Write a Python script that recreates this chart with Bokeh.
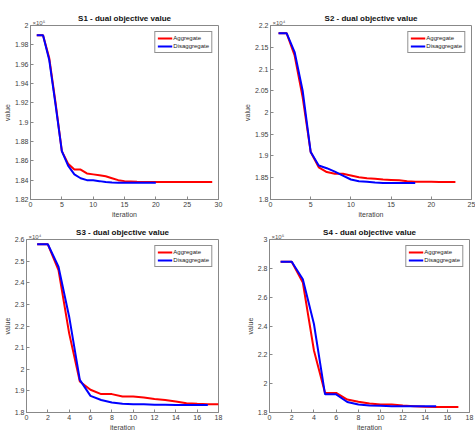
from bokeh.plotting import figure
from bokeh.layouts import column, row
from bokeh.models import Range1d, FixedTicker, CustomJSTickFormatter, Title
from bokeh.embed import file_html
from bokeh.resources import INLINE

# ---------------- data ----------------
s1_agg_x = list(range(1, 30))
s1_agg_y = [1.990, 1.990, 1.966, 1.920, 1.870, 1.857, 1.851, 1.851, 1.847, 1.846,
            1.845, 1.844, 1.842, 1.840, 1.839, 1.8387, 1.8383, 1.838, 1.838, 1.838,
            1.838, 1.838, 1.838, 1.838, 1.838, 1.838, 1.838, 1.838, 1.838]
s1_dis_x = list(range(1, 21))
s1_dis_y = [1.990, 1.990, 1.964, 1.918, 1.870, 1.855, 1.846, 1.842, 1.840, 1.8398,
            1.839, 1.838, 1.8375, 1.8374, 1.8374, 1.8373, 1.8373, 1.8372, 1.8372, 1.8372]

s2_agg_x = list(range(1, 24))
s2_agg_y = [2.1824, 2.1824, 2.131, 2.035, 1.909, 1.874, 1.863, 1.859, 1.859, 1.855,
            1.851, 1.849, 1.8475, 1.846, 1.845, 1.844, 1.842, 1.841, 1.8406, 1.8406,
            1.8405, 1.8405, 1.8405]
s2_dis_x = list(range(1, 19))
s2_dis_y = [2.1824, 2.1824, 2.139, 2.050, 1.909, 1.878, 1.872, 1.864, 1.855, 1.846,
            1.842, 1.841, 1.839, 1.838, 1.838, 1.838, 1.838, 1.838]

s3_agg_x = list(range(1, 19))
s3_agg_y = [2.578, 2.578, 2.458, 2.166, 1.943, 1.905, 1.885, 1.885, 1.874, 1.874,
            1.869, 1.862, 1.858, 1.851, 1.843, 1.840, 1.838, 1.838]
s3_dis_x = list(range(1, 18))
s3_dis_y = [2.578, 2.578, 2.474, 2.243, 1.951, 1.877, 1.858, 1.846, 1.840, 1.838,
            1.838, 1.836, 1.836, 1.835, 1.835, 1.835, 1.835]

s4_agg_x = list(range(1, 18))
s4_agg_y = [2.846, 2.846, 2.701, 2.230, 1.936, 1.936, 1.890, 1.874, 1.862, 1.855,
            1.855, 1.848, 1.844, 1.840, 1.839, 1.839, 1.839]
s4_dis_x = list(range(1, 16))
s4_dis_y = [2.846, 2.846, 2.724, 2.414, 1.926, 1.926, 1.873, 1.855, 1.848, 1.846,
            1.844, 1.844, 1.844, 1.844, 1.844]

titles = ["S1 - dual objective value", "S2 - dual objective value",
          "S3 - dual objective value", "S4 - dual objective value"]
exponents = ["\u00d710\u2075", "\u00d710\u2074", "\u00d710\u2074", "\u00d710\u2075"]
x_ranges = [(0, 30), (0, 25), (0, 18), (0, 18)]
y_ranges = [(1.82, 2.0), (1.8, 2.2), (1.8, 2.6), (1.8, 3.0)]
x_ticks = [[0, 5, 10, 15, 20, 25, 30], [0, 5, 10, 15, 20, 25],
           [0, 2, 4, 6, 8, 10, 12, 14, 16, 18], [0, 2, 4, 6, 8, 10, 12, 14, 16, 18]]
y_ticks = [[1.82, 1.84, 1.86, 1.88, 1.9, 1.92, 1.94, 1.96, 1.98, 2.0],
           [1.8, 1.85, 1.9, 1.95, 2.0, 2.05, 2.1, 2.15, 2.2],
           [1.8, 1.9, 2.0, 2.1, 2.2, 2.3, 2.4, 2.5, 2.6],
           [1.8, 2.0, 2.2, 2.4, 2.6, 2.8, 3.0]]
series = [(s1_agg_x, s1_agg_y, s1_dis_x, s1_dis_y),
          (s2_agg_x, s2_agg_y, s2_dis_x, s2_dis_y),
          (s3_agg_x, s3_agg_y, s3_dis_x, s3_dis_y),
          (s4_agg_x, s4_agg_y, s4_dis_x, s4_dis_y)]

FONT = "Liberation Sans"
TXT = "#404040"
AX = "#888888"
EPS = 1e-7

fmt_code = "return String(Number(tick.toFixed(6)));"

geom = [
    (240, 220, 24, 22, 25, 19),
    (235, 220, 29, 4, 25, 21),
    (240, 223, 23, 22, 19, 30),
    (235, 223, 29, 6, 18, 31),
]

figs = []
for i in range(4):
    w, h, bl, br, bt, bb = geom[i]
    x0, x1 = x_ranges[i]
    y0, y1 = y_ranges[i]
    p = figure(width=w, height=h, output_backend="svg", toolbar_location=None,
               x_range=Range1d(x0 - EPS, x1 + EPS), y_range=Range1d(y0 - EPS, y1 + EPS),
               min_border_left=bl, min_border_right=br,
               min_border_top=bt, min_border_bottom=bb)
    # exponent marker just above the frame, at the left
    p.add_layout(Title(text=exponents[i], align="left", offset=2, text_font=FONT,
                       text_font_size="6px", text_color="#555555",
                       text_font_style="normal", standoff=0), "above")
    # main title
    p.add_layout(Title(text=titles[i], align="center", text_font=FONT,
                       text_font_size="8px", text_color="#111111",
                       text_font_style="bold", standoff=-10), "above")
    p.grid.visible = False
    p.outline_line_color = AX
    p.outline_line_width = 1
    p.background_fill_color = "white"
    p.border_fill_color = "white"

    for ax in (p.xaxis[0], p.yaxis[0]):
        ax.axis_line_color = AX
        ax.major_tick_line_color = AX
        ax.major_tick_in = 3
        ax.major_tick_out = 0
        ax.minor_tick_line_color = None
        ax.major_label_text_font = FONT
        ax.major_label_text_font_size = "7px"
        ax.major_label_text_color = TXT
        ax.major_label_standoff = 2
        ax.axis_label_text_font = FONT
        ax.axis_label_text_font_size = "7px"
        ax.axis_label_text_font_style = "normal"
        ax.axis_label_text_color = TXT
        ax.axis_label_standoff = 1
        ax.formatter = CustomJSTickFormatter(code=fmt_code)
    p.xaxis[0].ticker = FixedTicker(ticks=x_ticks[i])
    p.yaxis[0].ticker = FixedTicker(ticks=y_ticks[i])
    p.xaxis[0].axis_label = "iteration"
    p.yaxis[0].axis_label = "value"

    ax_, ay_, dx_, dy_ = series[i]
    p.line(ax_, ay_, color="#ff0000", line_width=2, legend_label="Aggregate")
    p.line(dx_, dy_, color="#0000ff", line_width=2, legend_label="Disaggregate")

    p.legend.location = "top_right"
    p.legend.label_text_font = FONT
    p.legend.label_text_font_size = "6px"
    p.legend.label_text_color = "#222222"
    p.legend.glyph_width = 15
    p.legend.glyph_height = 8
    p.legend.label_height = 8
    p.legend.label_standoff = 1
    p.legend.spacing = 0
    p.legend.padding = 2
    p.legend.margin = 6
    p.legend.border_line_color = "#222222"
    p.legend.border_line_width = 1
    p.legend.background_fill_alpha = 1
    figs.append(p)

layout = column(row(figs[0], figs[1]), row(figs[2], figs[3]))

open("out.html", "w").write(file_html(layout, INLINE))
